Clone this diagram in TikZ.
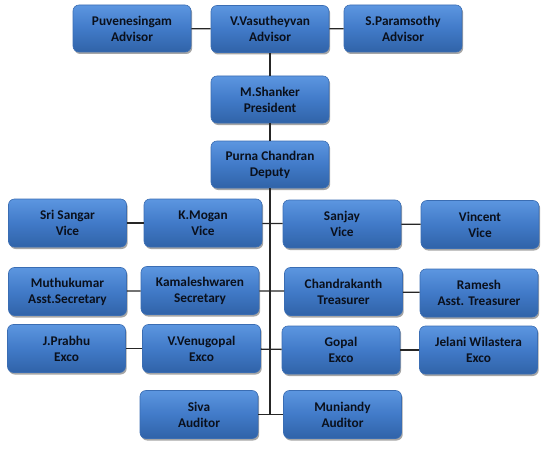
\documentclass[tikz,border=0pt]{standalone}
\usepackage{fontspec}
\setmainfont{Carlito}
\usetikzlibrary{shadows}
\definecolor{boxtop}{HTML}{5C96E0}
\definecolor{boxmid}{HTML}{417AC8}
\definecolor{boxbot}{HTML}{3063A8}
\definecolor{boxline}{HTML}{3A6DB3}
\definecolor{txt}{HTML}{0A101C}
\tikzset{
  orgbox/.style={rectangle, rounded corners=6pt, draw=boxline, line width=0.6pt,
    top color=boxtop, bottom color=boxbot, middle color=boxmid,
    minimum width=118pt, minimum height=47pt, align=center,
    font=\fontsize{13.3pt}{16pt}\selectfont\bfseries, text=txt, inner sep=2pt,
    drop shadow={shadow xshift=1.2pt, shadow yshift=-2pt, opacity=0.35, fill=black}},
  link/.style={draw=black!85, line width=1.3pt}
}
\begin{document}
\begin{tikzpicture}[x=1pt,y=-1pt]
\useasboundingbox (0,0) rectangle (552,460);
% top
\node[orgbox] (puv) at (132,28.5) {Puvenesingam\\Advisor};
\node[orgbox] (vas) at (270,29) {V.Vasutheyvan\\Advisor};
\node[orgbox] (par) at (403,28.5) {S.Paramsothy\\Advisor};
\node[orgbox] (sha) at (270,99.5) {M.Shanker\\President};
\node[orgbox] (pur) at (270,164.5) {Purna Chandran\\Deputy};
% row 1
\node[orgbox, minimum height=48pt] (sri) at (67.5,223) {Sri Sangar\\Vice};
\node[orgbox, minimum height=48pt] (mog) at (203,223) {K.Mogan\\Vice};
\node[orgbox, minimum height=48pt] (san) at (342,224) {Sanjay\\Vice};
\node[orgbox, minimum height=48pt] (vin) at (480,224.5) {Vincent\\Vice};
% row 2
\node[orgbox, minimum height=48pt] (mut) at (67.5,291.5) {Muthukumar\\Asst.Secretary};
\node[orgbox, minimum height=48pt] (kam) at (200,290.5) {Kamaleshwaren\\Secretary};
\node[orgbox, minimum height=48pt] (cha) at (343.5,291.5) {Chandrakanth\\Treasurer};
\node[orgbox, minimum height=48pt] (ram) at (479,293) {Ramesh\\Asst. Treasurer};
% row 3
\node[orgbox, minimum height=48pt] (pra) at (66.5,348.5) {J.Prabhu\\Exco};
\node[orgbox, minimum height=48pt] (ven) at (201.5,348.5) {V.Venugopal\\Exco};
\node[orgbox, minimum height=48pt] (gop) at (341,350) {Gopal\\Exco};
\node[orgbox, minimum height=48pt] (jel) at (478.5,350) {Jelani Wilastera\\Exco};
% row 4
\node[orgbox, minimum height=48pt] (siv) at (199,414.5) {Siva\\Auditor};
\node[orgbox, minimum height=48pt] (mun) at (342.5,414.5) {Muniandy\\Auditor};
\coordinate (trunk) at (270,414.5);
% connectors
\draw[link] (puv) -- (vas);
\draw[link] (vas) -- (par);
\draw[link] (vas) -- (sha);
\draw[link] (sha) -- (pur);
\draw[link] (pur) -- (trunk);
\draw[link] (sri) -- (mog);
\draw[link] (mog) -- (san);
\draw[link] (san) -- (vin);
\draw[link] (mut) -- (kam);
\draw[link] (kam) -- (cha);
\draw[link] (cha) -- (ram);
\draw[link] (pra) -- (ven);
\draw[link] (ven) -- (gop);
\draw[link] (gop) -- (jel);
\draw[link] (siv) -- (mun);
\end{tikzpicture}
\end{document}
